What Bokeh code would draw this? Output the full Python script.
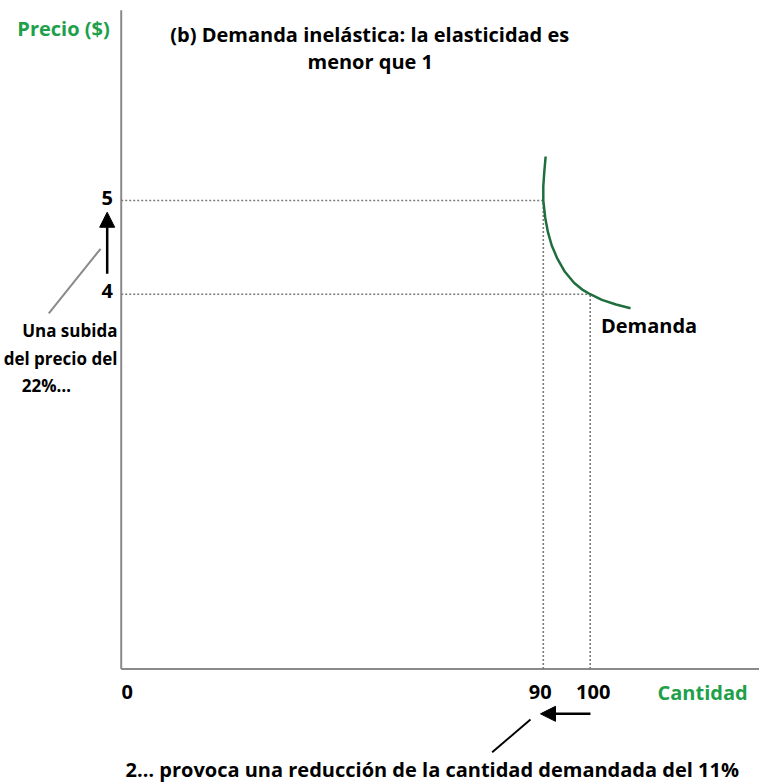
from bokeh.plotting import figure
from bokeh.models import Range1d, Arrow, NormalHead
from bokeh.core.properties import value
from bokeh.embed import file_html
from bokeh.resources import INLINE

# ---- data ----
price_ticks = [5, 4]
price_tick_labels = ["5", "4"]
qty_ticks = [0, 90, 100]
qty_tick_labels = ["0", "90", "100"]

demand_q = [90.5, 90.2, 90.0, 90.0, 90.4, 91.0, 91.8, 93.0, 94.6, 96.6, 98.3, 100.0, 102.5, 105.5, 108.6]
demand_p = [5.47, 5.30, 5.15, 5.00, 4.82, 4.66, 4.52, 4.38, 4.24, 4.12, 4.05, 4.00, 3.94, 3.89, 3.85]

point_a = (90, 5)
point_b = (100, 4)

FONT = "Open Sans"
GREEN = "#1ea04b"
DGREEN = "#1f6e3d"
GRAY = "#8a8a8a"

X0, X1 = -25.74, 136.1
Y0, Y1 = -1.211, 7.135

p = figure(width=759, height=782, output_backend="svg", toolbar_location=None,
           x_range=Range1d(X0, X1), y_range=Range1d(Y0, Y1),
           x_axis_location=None, y_axis_location=None, min_border=0)
p.grid.visible = False
p.outline_line_color = None
p.background_fill_color = "white"

# axes drawn as lines
p.segment(x0=[0, 0], y0=[0, 0], x1=[0, X1], y1=[7.03, 0], line_color=GRAY, line_width=2)

# dotted guide lines
p.segment(x0=[0, 0, point_a[0], point_b[0]],
          y0=[point_a[1], point_b[1], 0, 0],
          x1=[point_a[0], point_b[0], point_a[0], point_b[0]],
          y1=[point_a[1], point_b[1], point_a[1], point_b[1]],
          line_color="#7a7a7a", line_width=1.6, line_dash="2 2")

# demand curve
p.line(demand_q, demand_p, line_color=DGREEN, line_width=2.5)

# tick labels
p.text(x=[-3.0] * len(price_ticks), y=[v + 0.03 for v in price_ticks], text=price_tick_labels,
       text_font=value(FONT), text_font_style="bold", text_font_size="20px",
       text_align="center", text_baseline="middle", text_color="black")
p.text(x=qty_ticks, y=[-0.25] * len(qty_ticks), text=qty_tick_labels, x_offset=[6, -3, 3],
       text_font=value(FONT), text_font_style="bold", text_font_size="20px",
       text_align="center", text_baseline="middle", text_color="black")

def lab(x, y, t, size="20px", color="black", align="center"):
    p.text(x=[x], y=[y], text=[t], text_font=value(FONT), text_font_style="bold",
           text_font_size=size, text_align=align, text_baseline="middle", text_color=color)

lab(-12.3, 6.835, "Precio ($)", "20px", GREEN)
lab(123.97, -0.25, "Cantidad", "20px", GREEN)
lab(53.0, 6.77, "(b) Demanda inelástica: la elasticidad es", "20px")
lab(53.1, 6.48, "menor que 1", "20px")
lab(102.3, 3.67, "Demanda", "20px", align="left")
lab(-0.8, 3.61, "Una subida", "17px", align="right")
lab(-0.8, 3.31, "del precio del", "17px", align="right")
lab(-15.93, 3.03, "22%…", "17px")
lab(0.92, -1.07, "2… provoca una reducción de la cantidad demandada del 11%", "20px", align="left")

# pointer lines
p.line([-4.41, -15.44], [4.485, 3.797], line_color=GRAY, line_width=2)
p.line([87.27, 79.1], [-0.539, -0.888], line_color="black", line_width=2)

# arrows
p.add_layout(Arrow(end=NormalHead(size=15, fill_color="black", line_color="black"),
                   x_start=-2.99, y_start=4.22, x_end=-2.99, y_end=4.875,
                   line_color="black", line_width=2.5))
p.add_layout(Arrow(end=NormalHead(size=15, fill_color="black", line_color="black"),
                   x_start=100.06, y_start=-0.478, x_end=89.4, y_end=-0.478,
                   line_color="black", line_width=2.5))

open("out.html", "w").write(file_html(p, INLINE))
